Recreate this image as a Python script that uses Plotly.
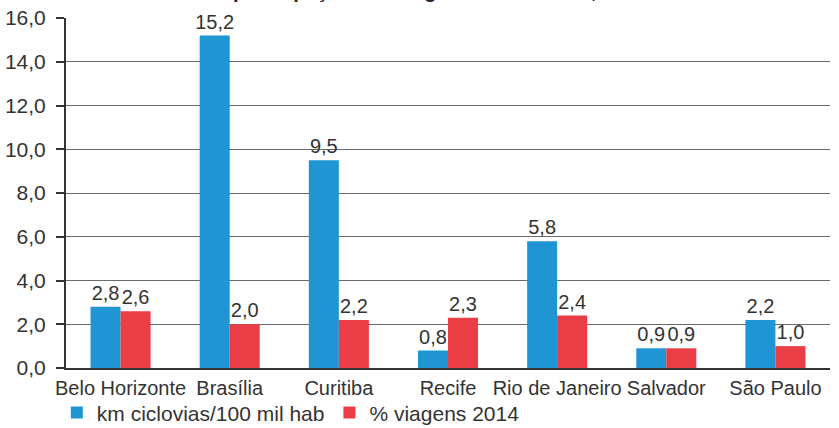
import plotly.graph_objects as go

cities = ["Belo Horizonte", "Brasília", "Curitiba", "Recife", "Rio de Janeiro", "Salvador", "São Paulo"]
km_ciclovias = [2.8, 15.2, 9.5, 0.8, 5.8, 0.9, 2.2]
viagens_2014 = [2.6, 2.0, 2.2, 2.3, 2.4, 0.9, 1.0]
series_names = ["km ciclovias/100 mil hab", "% viagens 2014"]
y_ticks = [0, 2, 4, 6, 8, 10, 12, 14, 16]

FONT = "Liberation Sans, Arial, sans-serif"
TXT = "#333333"

fig = go.Figure()
fig.add_trace(go.Bar(x=cities, y=km_ciclovias, name=series_names[0],
                     marker=dict(color="#1F96D3", line=dict(width=0)),
                     texttemplate="%{y:.1f}", textposition="outside", constraintext="none",
                     textfont=dict(size=20, color=TXT, family=FONT), cliponaxis=False))
fig.add_trace(go.Bar(x=cities, y=viagens_2014, name=series_names[1],
                     marker=dict(color="#E93E45", line=dict(width=0)),
                     texttemplate="%{y:.1f}", textposition="outside", constraintext="none",
                     textfont=dict(size=20, color=TXT, family=FONT), cliponaxis=False))

fig.update_layout(
    width=839, height=428,
    margin=dict(l=66, r=9, t=18, b=60, autoexpand=False),
    paper_bgcolor="white", plot_bgcolor="white",
    separators=",.",
    barmode="group", bargap=0.45, bargroupgap=0,
    font=dict(family=FONT, size=21, color=TXT),
    showlegend=True,
    legend=dict(orientation="h", x=-0.012, xanchor="left", y=-0.128, yanchor="middle",
                font=dict(size=21, color=TXT), itemwidth=30, traceorder="normal",
                bgcolor="rgba(0,0,0,0)"),
    uniformtext=dict(mode=False),
)
fig.update_xaxes(showline=True, linecolor="#333333", linewidth=2, ticks="", showgrid=False,
                 tickangle=0, tickfont=dict(size=20, color=TXT), ticklabelstandoff=1,
                 automargin=False)
fig.update_yaxes(range=[0, 16], tickvals=y_ticks, tickformat=".1f",
                 showline=True, linecolor="#333333", linewidth=2,
                 ticks="outside", ticklen=8, tickcolor="#333333", tickwidth=1.5,
                 ticklabelstandoff=6, automargin=False,
                 showgrid=True, gridcolor="#6a6a6a", gridwidth=1,
                 zeroline=False, tickfont=dict(size=21, color=TXT))

fig.add_annotation(text="<b>Extensão de ciclovias e participação nas viagens em bicicleta, %</b>",
                   xref="paper", yref="paper", x=-0.085, xanchor="left",
                   y=1.04, yanchor="bottom", showarrow=False,
                   font=dict(size=20, color="#222222", family=FONT))

fig.write_html("out.html")
